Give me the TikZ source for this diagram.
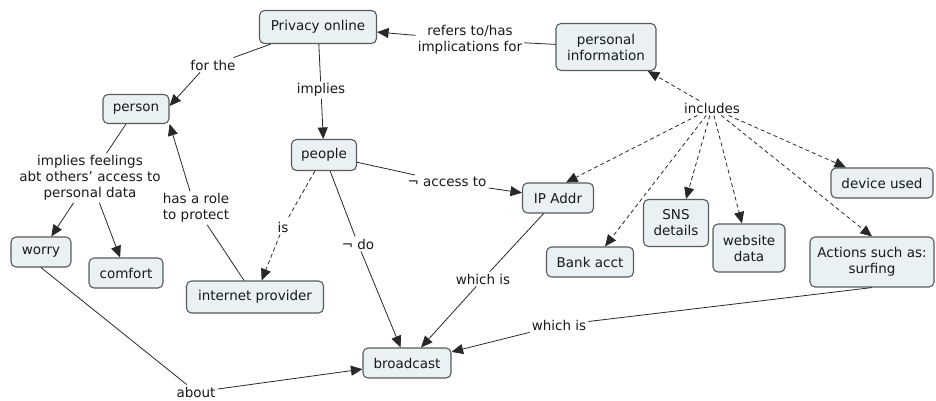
\documentclass[tikz,border=0pt]{standalone}
\usepackage{fontspec}
\setmainfont{DejaVu Sans}
\usetikzlibrary{arrows.meta,calc}
\definecolor{nodefill}{RGB}{233,241,244}
\definecolor{nodeline}{RGB}{90,90,90}
\definecolor{linkcol}{RGB}{40,40,40}
\begin{document}
\begin{tikzpicture}[x=1pt,y=-1pt,
  concept/.style={draw=nodeline, fill=nodefill, rounded corners=5pt, line width=1.1pt,
    align=center, font=\fontsize{13.5}{16}\selectfont, inner sep=0pt, text=black!90},
  lbl/.style={align=center, font=\fontsize{13.5}{16}\selectfont, inner sep=2pt, text=black!90},
  link/.style={draw=linkcol, line width=0.8pt},
  arr/.style={link, -{Triangle[length=11.5pt,width=10pt]}},
  dlink/.style={link, dash pattern=on 4pt off 3pt},
  darr/.style={arr, dash pattern=on 4pt off 3pt}
]
\useasboundingbox (0,0) rectangle (936,400);

% concepts
\node[concept, minimum width=117pt, minimum height=33pt] (priv) at (318,27) {Privacy online};
\node[concept, minimum width=100pt, minimum height=47pt] (pinfo) at (606,47) {personal\\information};
\node[concept, minimum width=66pt, minimum height=29pt] (person) at (136,109) {person};
\node[concept, minimum width=65pt, minimum height=31pt] (people) at (324,155) {people};
\node[concept, minimum width=71pt, minimum height=30pt] (ip) at (558,198) {IP Addr};
\node[concept, minimum width=102pt, minimum height=30pt] (dev) at (882,183) {device used};
\node[concept, minimum width=65pt, minimum height=47pt] (sns) at (676,223) {SNS\\details};
\node[concept, minimum width=72pt, minimum height=48pt] (web) at (749,248) {website\\data};
\node[concept, minimum width=87pt, minimum height=30pt] (bank) at (590,262) {Bank acct};
\node[concept, minimum width=124pt, minimum height=50pt] (act) at (872,262) {Actions such as:\\surfing};
\node[concept, minimum width=60pt, minimum height=30pt] (worry) at (41,252) {worry};
\node[concept, minimum width=74pt, minimum height=30pt] (comfort) at (126,273) {comfort};
\node[concept, minimum width=137pt, minimum height=32pt] (iprov) at (255,297) {internet provider};
\node[concept, minimum width=88pt, minimum height=30pt] (bc) at (407,363) {broadcast};

% link labels
\node[lbl] (refers) at (470,40) {refers to/has\\implications for};
\node[lbl] (forthe) at (213,65) {for the};
\node[lbl] (implies) at (321,90) {implies};
\node[lbl] (feel) at (90,178) {implies feelings\\abt others' access to\\personal data};
\node[lbl] (hr) at (196,208) {has a role\\to protect};
\node[lbl] (is) at (283,227) {is};
\node[lbl] (nd) at (358,244) {¬ do};
\node[lbl] (nacc) at (447,182) {¬ access to};
\node[lbl] (inc) at (712,108) {includes};
\node[lbl] (wi1) at (483,279) {which is};
\node[lbl] (wi2) at (559,325) {which is};
\node[lbl] (about) at (196,392) {about};

% connectors
\draw[link] (pinfo) -- (refers);
\draw[arr] (refers) -- (priv);
\draw[link] (priv) -- (forthe);
\draw[arr] ($(forthe.south)+(-13,0)$) -- ($(person.east)+(0,-3)$);
\draw[link] (priv) -- (implies);
\draw[arr] (implies) -- (people);
\draw[link] (person) -- (feel);
\draw[arr] (feel) -- (worry);
\draw[arr] (feel) -- (comfort);
\draw[link] (iprov) -- (hr);
\draw[arr] ($(hr.north)+(-6,0)$) -- (person.south east);
\draw[dlink] (people) -- (is);
\draw[darr] (is) -- (iprov);
\draw[link] (people) -- (nd);
\draw[arr] (nd) -- (bc);
\draw[link] (people) -- (nacc);
\draw[arr] (nacc) -- (ip);
\draw[link] (ip) -- (wi1);
\draw[arr] (wi1) -- (bc);
\draw[link] (act.south) -- (wi2);
\draw[arr] (wi2) -- (bc);
\draw[link] (worry.south) -- (about);
\draw[arr] (about) -- (bc);
\draw[darr] (inc) -- (pinfo);
\draw[darr] (inc) -- ($(ip.north)+(8,0)$);
\draw[darr] (inc) -- ($(bank.north)+(15,0)$);
\draw[darr] (inc) -- ($(sns.north)+(10,0)$);
\draw[darr] (inc) -- ($(web.north)+(-7,0)$);
\draw[darr] (inc) -- (act.north);
\draw[darr] (inc) -- ($(dev.north)+(-36,0)$);
\end{tikzpicture}
\end{document}
